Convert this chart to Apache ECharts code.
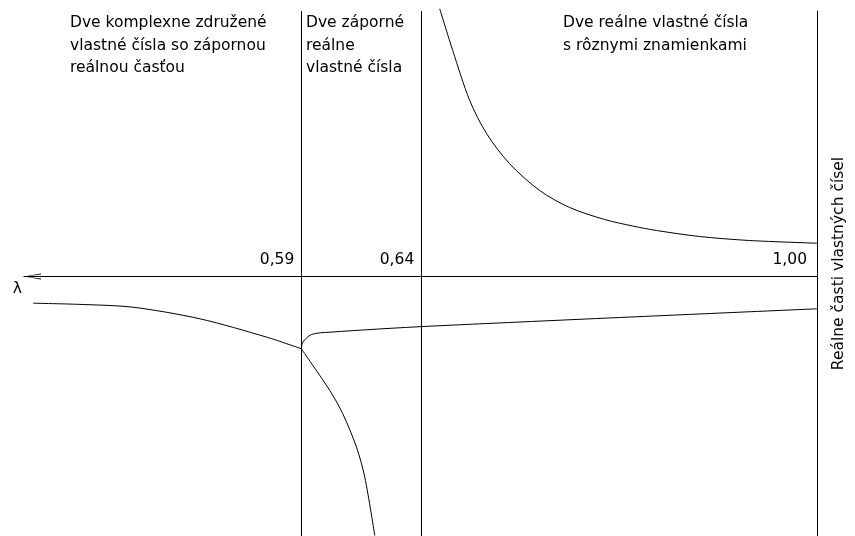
<!DOCTYPE html>
<html>
<head>
<meta charset="utf-8">
<script src="https://cdn.jsdelivr.net/npm/echarts@6/dist/echarts.min.js"></script>
<style>
  html, body { margin: 0; padding: 0; background: #fff; }
  #chart { width: 855px; height: 536px; }
</style>
</head>
<body>
<div id="chart"></div>
<script>
// Schematic coordinates: x runs along the λ axis, y is the real part of the eigenvalues
// (0 lies on the λ axis, positive upwards).
const thresholdPositions = [301.5, 421.5, 817.5];
const thresholdLabels = ['0,59', '0,64', '1,00'];

const regionTexts = [
  'Dve komplexne združené\nvlastné čísla so zápornou\nreálnou časťou',
  'Dve záporné\nreálne\nvlastné čísla',
  'Dve reálne vlastné čísla\ns rôznymi znamienkami'
];

// Common real part of the complex pair (left of 0,59)
const complexBranch = [[33, -26.7], [83, -28], [133, -30.7], [200, -42.3], [267, -60.7], [301.5, -72.3]];
// Smaller-magnitude negative eigenvalue (continues past 0,64)
const upperNegBranch = [[301.5, -72.3], [303, -65.7], [311.7, -58], [330, -55.7], [430, -49.7], [817.5, -32.3]];
// Larger-magnitude negative eigenvalue (diverges at 0,64)
const lowerNegBranch = [[301.5, -72.3], [330, -114], [343, -137.3], [356.7, -170.7], [365, -200.7], [375, -259]];
// Positive eigenvalue (right of 0,64)
const positiveBranch = [[440, 267.7], [453, 226], [470, 176], [487, 142.7], [510, 112.7], [540, 86], [570, 69],
  [605, 57], [633, 50.5], [657, 46], [700, 40], [750, 36], [817.5, 33.3]];

const FONT = 'DejaVu Sans';
const FS = 15.5;
const INK = '#000';

const curveStyle = { color: INK, width: 1 };
function branch(data, extra) {
  return Object.assign({
    type: 'line',
    data: data,
    symbol: 'none',
    smooth: 0.3,
    lineStyle: curveStyle,
    silent: true
  }, extra || {});
}

const chart = echarts.init(document.getElementById('chart'), null, { renderer: 'canvas' });

chart.setOption({
  animation: false,
  backgroundColor: '#fff',
  grid: { left: 24, right: 37.5, top: 11, bottom: 0, containLabel: false },
  xAxis: {
    type: 'value',
    min: 24,
    max: 817.5,
    name: 'λ',
    nameLocation: 'start',
    nameGap: 2,
    nameTextStyle: { fontFamily: FONT, fontSize: FS, color: INK, verticalAlign: 'top', padding: [4, 0, 0, 0] },
    axisLine: {
      show: true,
      onZero: true,
      symbol: ['path://M3,0L6,17L5,17L3,1.2L1,17L0,17Z', 'none'],
      symbolSize: [6, 17],
      symbolOffset: [8.5, 0],
      lineStyle: { color: INK, width: 1 }
    },
    axisTick: { show: false },
    splitLine: { show: false },
    axisLabel: { show: false }
  },
  yAxis: {
    type: 'value',
    position: 'right',
    min: -259.5,
    max: 265.5,
    name: 'Reálne časti vlastných čísel',
    nameLocation: 'middle',
    nameRotate: 90,
    nameGap: 14,
    nameTextStyle: { fontFamily: FONT, fontSize: FS, color: INK, padding: [0, 0, 0, 20] },
    axisLine: { show: true, onZero: false, lineStyle: { color: INK, width: 1 } },
    axisTick: { show: false },
    axisLabel: { show: false },
    splitLine: { show: false }
  },
  graphic: [
    { type: 'text', left: 70, top: 12, style: { text: regionTexts[0], font: FS + 'px ' + FONT, lineHeight: 22.5, fill: INK } },
    { type: 'text', left: 306, top: 12, style: { text: regionTexts[1], font: FS + 'px ' + FONT, lineHeight: 22.5, fill: INK } },
    { type: 'text', left: 563, top: 12, style: { text: regionTexts[2], font: FS + 'px ' + FONT, lineHeight: 22.5, fill: INK } }
  ],
  series: [
    branch(complexBranch, {
      markLine: {
        silent: true,
        symbol: 'none',
        label: { show: false },
        lineStyle: { color: INK, width: 1, type: 'solid' },
        data: [{ xAxis: thresholdPositions[0] }, { xAxis: thresholdPositions[1] }]
      },
      // threshold values of λ, written just above the axis beside each boundary
      markPoint: {
        silent: true,
        symbol: 'circle',
        symbolSize: 0,
        label: {
          show: true,
          position: 'left',
          distance: 7,
          offset: [0, -16.5],
          formatter: '{b}',
          fontFamily: FONT,
          fontSize: FS,
          color: INK
        },
        data: thresholdPositions.map(function (x, i) {
          const item = { name: thresholdLabels[i], coord: [x, 0] };
          // the last label sits a little further from the right-hand axis
          if (i === thresholdPositions.length - 1) item.label = { distance: 10 };
          return item;
        })
      }
    }),
    branch(upperNegBranch),
    branch(lowerNegBranch),
    branch(positiveBranch, { clip: false })
  ]
});
</script>
</body>
</html>
